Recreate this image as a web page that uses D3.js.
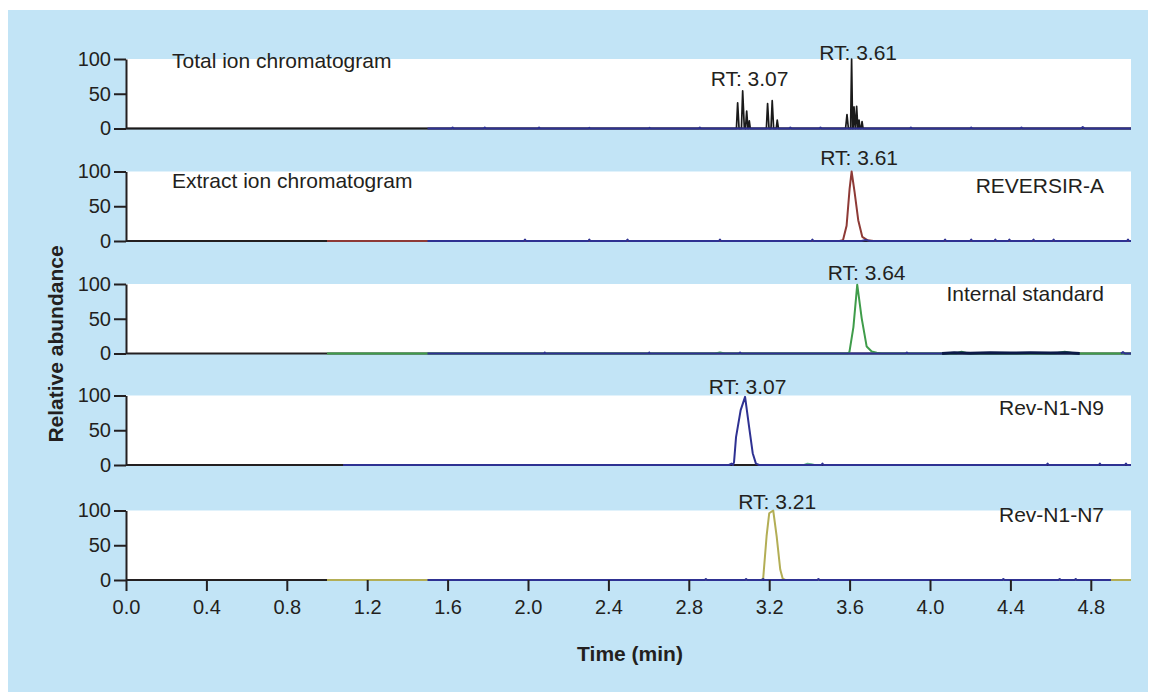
<!DOCTYPE html>
<html>
<head>
<meta charset="utf-8">
<script src="https://cdn.jsdelivr.net/npm/d3@7/dist/d3.min.js"></script>
<style>
  body { margin: 0; background: #fff; }
  text { font-family: "Liberation Sans", Arial, sans-serif; fill: #231f20; }
</style>
</head>
<body>
<svg id="chart" width="1156" height="692"></svg>
<script>
// tick labels
var xTicks = [0.0, 0.4, 0.8, 1.2, 1.6, 2.0, 2.4, 2.8, 3.2, 3.6, 4.0, 4.4, 4.8];
var yTicks = [0, 50, 100];

// panel texts
var panelNames = ["Total ion chromatogram", "Extract ion chromatogram", "", "", ""];
var compoundNames = ["", "REVERSIR-A", "Internal standard", "Rev-N1-N9", "Rev-N1-N7"];
var rtLabels = [[3.07, 3.61], [3.61], [3.64], [3.07], [3.21]];

// traces: [time (min), relative abundance]
var ticBlack = [[0, 0], [3.02, 0], [3.037, 0], [3.043, 37], [3.05, 0], [3.062, 0], [3.068, 54], [3.076, 2],
  [3.082, 0], [3.088, 25], [3.094, 0], [3.097, 0], [3.101, 11], [3.106, 0], [3.186, 0], [3.192, 36],
  [3.199, 0], [3.209, 0], [3.215, 40], [3.222, 0], [3.235, 0], [3.24, 12], [3.246, 0], [3.58, 0],
  [3.587, 20], [3.594, 0], [3.605, 0], [3.61, 100], [3.615, 0], [3.618, 0], [3.622, 31], [3.628, 3],
  [3.63, 0], [3.635, 32], [3.641, 0], [3.643, 0], [3.647, 12], [3.652, 0], [3.657, 0], [3.662, 10],
  [3.667, 0], [5.0, 0]];
var ticBlue = [[1.5, 0], [1.62, 0], [1.625, 1.5], [1.63, 0], [1.78, 0], [1.785, 1.5], [1.79, 0], [2.05, 0],
  [2.055, 1.5], [2.06, 0], [2.3, 0], [2.305, 1], [2.31, 0], [2.6, 0], [2.605, 1], [2.61, 0], [2.85, 0],
  [2.855, 1.5], [2.86, 0], [3.3, 0], [3.305, 1.5], [3.31, 0], [3.45, 0], [3.455, 1.5], [3.46, 0],
  [3.9, 0], [3.905, 1.5], [3.91, 0], [4.2, 0], [4.205, 1.5], [4.21, 0], [4.45, 0], [4.455, 1.5],
  [4.46, 0], [4.75, 0], [4.76, 2], [4.77, 0], [5.0, 0]];

var revRed = [[1.0, 0], [3.55, 0], [3.567, 1], [3.585, 22], [3.6, 75], [3.61, 100], [3.625, 70],
  [3.643, 30], [3.663, 6], [3.69, 1], [3.72, 0], [5.0, 0]];
var revBlue = [[1.5, 0], [1.98, 0], [1.985, 2], [1.99, 0], [2.3, 0], [2.305, 2], [2.31, 0], [2.49, 0],
  [2.495, 2], [2.5, 0], [2.95, 0], [2.955, 2], [2.96, 0], [3.41, 0], [3.415, 2], [3.42, 0], [3.66, 0],
  [3.68, 1.5], [3.7, 0], [4.07, 0], [4.075, 2], [4.08, 0], [4.2, 0], [4.205, 2], [4.21, 0], [4.32, 0],
  [4.325, 2], [4.33, 0], [4.39, 0], [4.395, 2], [4.4, 0], [4.51, 0], [4.515, 2], [4.52, 0], [4.61, 0],
  [4.615, 2], [4.62, 0], [4.98, 0], [4.985, 2], [4.99, 0], [5.0, 0]];

var isGreen = [[1.0, 0], [2.93, 0], [2.955, 1.5], [2.98, 0], [3.59, 0], [3.599, 2], [3.619, 38],
  [3.638, 99], [3.66, 51], [3.685, 10], [3.71, 3], [3.735, 1], [3.76, 0], [4.13, 0], [4.157, 2.5],
  [4.19, 0], [4.62, 0], [4.67, 2.5], [4.72, 0], [5.0, 0]];
var isBlue = [[1.5, 0], [2.08, 0], [2.083, 1.5], [2.086, 0], [2.6, 0], [2.603, 1.5], [2.606, 0],
  [3.05, 0], [3.055, 1.5], [3.06, 0], [3.88, 0], [3.885, 1.5], [3.89, 0], [4.06, 0], [4.5, null],
  [4.95, 0], [4.96, 2], [4.97, 0], [5.0, 0]];
var isNavy = [[4.06, 0], [4.12, 1], [4.2, 0.5], [4.3, 1], [4.4, 0.8], [4.5, 1], [4.6, 0.6], [4.68, 1],
  [4.745, 0]];

var n9Green = [[3.37, 0], [3.39, 2], [3.41, 1.5], [3.43, 0]];
var n9Blue = [[1.08, 0], [3.0, 0], [3.013, 2], [3.02, 0], [3.025, 4], [3.035, 40], [3.058, 79],
  [3.08, 98], [3.1, 55], [3.118, 17], [3.134, 2], [3.15, 0], [3.46, 0], [3.465, 2], [3.47, 0],
  [4.58, 0], [4.585, 2], [4.59, 0], [4.84, 0], [4.845, 2], [4.85, 0], [4.97, 0], [4.975, 2],
  [4.98, 0], [5.0, 0]];

var n7Olive = [[1.0, 0], [3.16, 0], [3.17, 2], [3.187, 63], [3.2, 96], [3.22, 100], [3.237, 63],
  [3.255, 15], [3.267, 2], [3.28, 0], [5.0, 0]];
var n7Blue = [[1.5, 0], [2.88, 0], [2.885, 1.5], [2.89, 0], [3.08, 0], [3.085, 1.5], [3.09, 0],
  [3.165, 0], [3.17, 1.5], [3.175, 0], [3.44, 0], [3.445, 1.5], [3.45, 0], [4.36, 0], [4.365, 1.5],
  [4.37, 0], [4.64, 0], [4.645, 1.5], [4.65, 0], [4.72, 0], [4.725, 1.5], [4.73, 0], [4.9, 0]];

var blue = "#2e3192";
var panelSeries = [
  [{ d: ticBlack, c: "#1a1a1a", w: 1.7 }, { d: ticBlue, c: blue, w: 2 }],
  [{ d: revRed, c: "#8e3a36", w: 2 }, { d: revBlue, c: blue, w: 2 }],
  [{ d: isGreen, c: "#3f9c4a", w: 2 }, { d: isBlue, c: blue, w: 2 }, { d: isNavy, c: "#0b1a48", w: 3 }],
  [{ d: n9Green, c: "#5fb08a", w: 1.6 }, { d: n9Blue, c: blue, w: 2 }],
  [{ d: n7Olive, c: "#b3ae55", w: 2 }, { d: n7Blue, c: blue, w: 2 }]
];

// hand placement of the panel texts, relative to each panel top
var nameDy = [9, 16, 0, 0, 0];
var compoundDy = [0, 21, 17, 19.5, 11];
var rtDy = [0.5, -6.5, -4.5, -2, -2];
var rtDx = [6.5, 7.5, 9, 4.5, 6];

var svg = d3.select("#chart");

// light blue backdrop
svg.append("rect")
  .attr("x", 8)
  .attr("y", 10)
  .attr("width", 1140)
  .attr("height", 682)
  .attr("fill", "#c2e4f6");

var x = d3.scaleLinear().domain([0, 5]).range([126, 1131]);
var bottoms = [128.5, 241, 353.5, 465, 580];
var panelH = 69.5;

bottoms.forEach(function (b, i) {
  var y = d3.scaleLinear().domain([0, 100]).range([b, b - panelH]);
  var g = svg.append("g").attr("class", "panel");

  g.append("rect")
    .attr("x", x(0))
    .attr("y", y(100))
    .attr("width", x(5) - x(0))
    .attr("height", panelH)
    .attr("fill", "#fff");

  // zero line
  g.append("line")
    .attr("x1", x(0)).attr("x2", x(5))
    .attr("y1", y(0)).attr("y2", y(0))
    .attr("stroke", "#231f20")
    .attr("stroke-width", 2);

  var line = d3.line()
    .defined(function (d) { return d[1] !== null; })
    .x(function (d) { return x(d[0]); })
    .y(function (d) { return y(d[1]); });

  panelSeries[i].forEach(function (s) {
    g.append("path")
      .datum(s.d)
      .attr("d", line)
      .attr("fill", "none")
      .attr("stroke", s.c)
      .attr("stroke-width", s.w)
      .attr("stroke-linejoin", "round");
  });

  var yAxis = g.append("g")
    .attr("transform", "translate(" + x(0) + ",0)")
    .call(d3.axisLeft(y).tickValues(yTicks).tickSize(12).tickSizeOuter(0).tickPadding(3));
  yAxis.selectAll("path, line").attr("stroke", "#231f20").attr("stroke-width", 2);
  yAxis.selectAll("text").attr("font-size", 20).attr("font-family", null);

  if (panelNames[i]) {
    g.append("text")
      .attr("x", 172)
      .attr("y", y(100) + nameDy[i])
      .attr("font-size", 21)
      .text(panelNames[i]);
  }
  if (compoundNames[i]) {
    g.append("text")
      .attr("x", 1104)
      .attr("y", y(100) + compoundDy[i])
      .attr("text-anchor", "end")
      .attr("font-size", 21)
      .text(compoundNames[i]);
  }

  rtLabels[i].forEach(function (rt, k) {
    // the first RT in the TIC sits lower, next to its smaller peak cluster
    var low = (i === 0 && k === 0);
    g.append("text")
      .attr("x", x(rt) + rtDx[i])
      .attr("y", low ? y(100) + 27 : y(100) + rtDy[i])
      .attr("text-anchor", "middle")
      .attr("font-size", 21)
      .text("RT: " + rt.toFixed(2));
  });

  if (i === bottoms.length - 1) {
    var xAxis = g.append("g")
      .attr("transform", "translate(0," + b + ")")
      .call(d3.axisBottom(x).tickValues(xTicks).tickFormat(d3.format(".1f")).tickSize(11).tickPadding(9));
    xAxis.select(".domain").remove();
    xAxis.selectAll("line").attr("stroke", "#231f20").attr("stroke-width", 2);
    xAxis.selectAll("text").attr("font-size", 20).attr("font-family", null);
  }
});

// axis titles
svg.append("text")
  .attr("x", 630)
  .attr("y", 661)
  .attr("text-anchor", "middle")
  .attr("font-size", 21)
  .attr("font-weight", "bold")
  .text("Time (min)");

svg.append("text")
  .attr("transform", "translate(63,344) rotate(-90)")
  .attr("text-anchor", "middle")
  .attr("font-size", 21)
  .attr("font-weight", "bold")
  .text("Relative abundance");
</script>
</body>
</html>
